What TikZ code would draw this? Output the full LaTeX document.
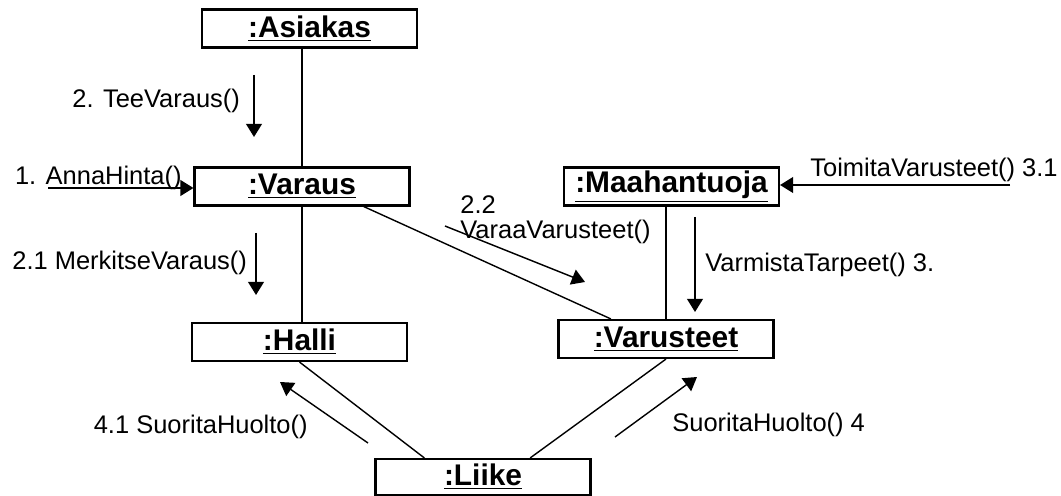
\documentclass[tikz,border=0pt]{standalone}
\usepackage{fontspec}
\setmainfont{Liberation Sans}
\usetikzlibrary{positioning,arrows.meta,calc}
\tikzset{
    object/.style = {
        draw,
        shape=rectangle,
        minimum height=0.76cm,
        minimum width=4.3cm,
        inner sep=0pt,
        line width=1.2pt,
        font=\fontsize{17pt}{19pt}\selectfont\bfseries
    },
    msg/.style = {
        inner sep=0pt,
        align=left,
        font=\fontsize{14.5pt}{14.2pt}\selectfont
    },
    link/.style = {
        line width=0.8pt
    },
    call/.style = {
        line width=1.1pt
    },
    >={Triangle[length=7.5pt,width=9pt]},
}

\begin{document}
\begin{tikzpicture}[x=0.02cm, y=-0.02cm]
                \useasboundingbox (0,0) rectangle (1061,496);

                \node[object] (asiakas) at (309.5,28.5) {\underline{:Asiakas}};
                \node[object] (varaus) at (302,186.5) {\underline{:Varaus}};
                \node[object] (maahantuoja) at (671.5,186.5) {\underline{:Maahantuoja}};
                \node[object] (halli) at (299.5,342) {\underline{:Halli}};
                \node[object] (varusteet) at (666,339) {\underline{:Varusteet}};
                \node[object, minimum height=0.72cm] (liike) at (483,477) {\underline{:Liike}};

                % links
                \path[draw, link] (asiakas.south -| varaus.north) -- (varaus.north);
                \path[draw, link] (varaus.south) -- (varaus.south |- halli.north);
                \path[draw, link] (maahantuoja.south -| varusteet.north) -- (varusteet.north);
                \path[draw, link] (varaus.342) -- (varusteet.160);
                \path[draw, link] (halli.south) -- (liike.162);
                \path[draw, link] (varusteet.south) -- (liike.22);

                % messages
                \coordinate (anna) at (48,188);
                \coordinate (tee1) at (254,75);
                \coordinate (tee2) at (254,137);
                \coordinate (merk1) at (256,233);
                \coordinate (merk2) at (256,295);
                \coordinate (varaa1) at (445,226);
                \coordinate (varaa2) at (585,282);
                \coordinate (toimita) at (1010,185);
                \coordinate (varm1) at (695,217);
                \coordinate (varm2) at (695,312);
                \coordinate (huoltoh1) at (368,443);
                \coordinate (huoltoh2) at (280,382);
                \coordinate (huoltov1) at (615,437);
                \coordinate (huoltov2) at (697,377);

                \path[draw, call, ->] (anna) -- (anna -| varaus.west);
                \path[draw, call, ->] (tee1) -- (tee2);
                \path[draw, call, ->] (merk1) -- (merk2);
                \path[draw, link, ->] (varaa1) -- (varaa2);
                \path[draw, call, ->] (toimita) -- (toimita -| maahantuoja.east);
                \path[draw, call, ->] (varm1) -- (varm2);
                \path[draw, link, ->] (huoltoh1) -- (huoltoh2);
                \path[draw, link, ->] (huoltov1) -- (huoltov2);

                \node[msg, anchor=base east] (annalbl) at (182,185) {1. AnnaHinta()};
                \node[msg, anchor=base west] (teelbl) at (72,108) {2. TeeVaraus()};
                \node[msg, anchor=base west] (merklbl) at (12,270) {2.1 MerkitseVaraus()};
                \node[msg, anchor=north west] (varaalbl) at (460,195) {2.2\\VaraaVarusteet()};
                \node[msg, anchor=base east] (toimitalbl) at (1058,177) {ToimitaVarusteet() 3.1};
                \node[msg, anchor=base west] (varmlbl) at (705,272) {VarmistaTarpeet() 3.};
                \node[msg, anchor=base east] (huoltohlbl) at (308,433) {4.1 SuoritaHuolto()};
                \node[msg, anchor=base west] (huoltovlbl) at (672,431) {SuoritaHuolto() 4};
            \end{tikzpicture}
\end{document}
